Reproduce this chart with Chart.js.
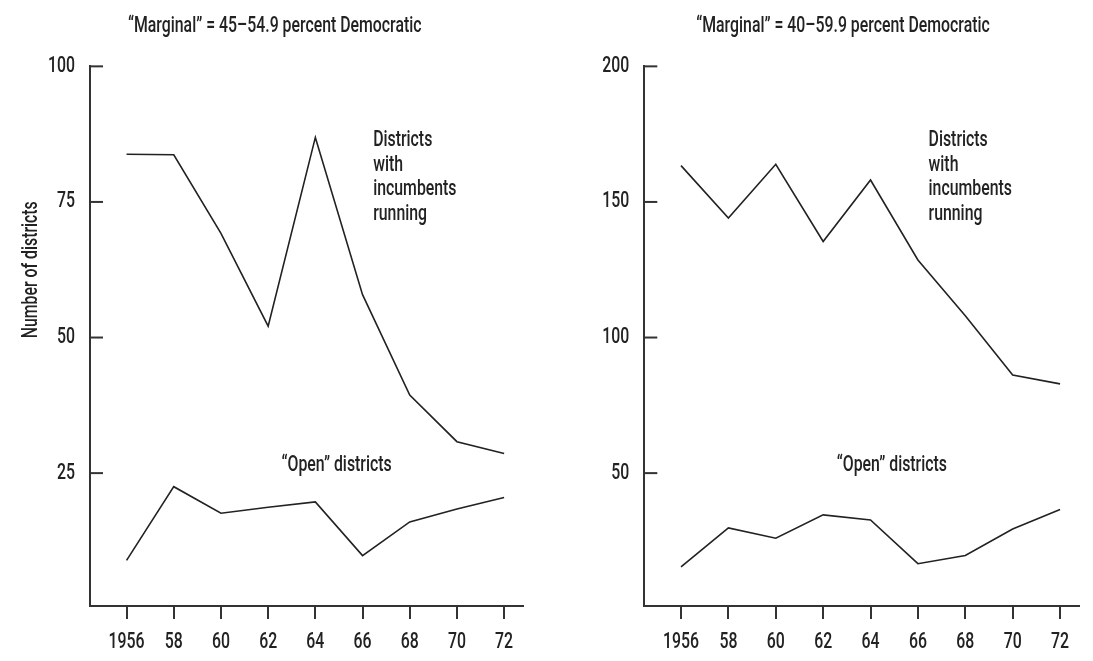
<!DOCTYPE html>
<html>
<head>
<meta charset="utf-8">
<script src="https://cdn.jsdelivr.net/npm/chart.js@4.4.1/dist/chart.umd.min.js"></script>
<style>
  body { margin: 0; background: #fff; width: 1093px; height: 661px; position: relative; overflow: hidden; }
  canvas { position: absolute; top: 0; }
  #leftChart { left: 0; }
  #rightChart { left: 546px; }
</style>
</head>
<body>
<canvas id="leftChart" width="546" height="661"></canvas>
<canvas id="rightChart" width="547" height="661"></canvas>
<script>
// election years (x axis)
const years = [1956, 1958, 1960, 1962, 1964, 1966, 1968, 1970, 1972];

// left panel: marginal = 45-54.9 percent Democratic
const leftIncumbents = [83.8, 83.7, 69.2, 52.1, 86.9, 57.9, 39.4, 30.8, 28.6];
const leftOpen = [8.9, 22.5, 17.6, 18.7, 19.7, 9.8, 16.0, 18.4, 20.5];
const leftYTicks = [25, 50, 75, 100];

// right panel: marginal = 40-59.9 percent Democratic
const rightIncumbents = [163.4, 144.1, 163.9, 135.4, 158.1, 128.6, 108.0, 86.2, 82.9];
const rightOpen = [15.4, 29.8, 26.0, 34.6, 32.7, 16.6, 19.6, 29.4, 36.6];
const rightYTicks = [50, 100, 150, 200];

const titles = ['\u201cMarginal\u201d = 45\u201354.9 percent Democratic', '\u201cMarginal\u201d = 40\u201359.9 percent Democratic'];
const incumbentNote = ['Districts', 'with', 'incumbents', 'running'];
const openNote = '\u201cOpen\u201d districts';
const yLabel = 'Number of districts';

const family = 'Roboto, "Liberation Sans", sans-serif';
const fontSize = 22;
const fontWeight = 500;
const squeeze = 0.72; // no condensed face installed, so narrow the glyphs
const ink = '#222';
const axisInk = '#333';

Chart.defaults.font.family = family;
Chart.defaults.font.size = fontSize;
Chart.defaults.font.weight = fontWeight;
Chart.defaults.color = ink;

// every label on the canvas gets drawn horizontally squeezed about its anchor
function condense(canvas) {
  const ctx = canvas.getContext('2d');
  const fill = ctx.fillText;
  ctx.fillText = function (text, x, y) {
    this.save();
    this.translate(x, y);
    this.scale(squeeze, 1);
    fill.call(this, text, 0, 0);
    this.restore();
  };
  return canvas;
}

// y tick marks point into the plot, so draw them ourselves
const inwardTicks = {
  id: 'inwardTicks',
  afterDraw(chart) {
    const { ctx, chartArea, scales: { y } } = chart;
    ctx.save();
    ctx.strokeStyle = axisInk;
    ctx.lineWidth = 2;
    y.ticks.forEach(t => {
      const py = y.getPixelForValue(t.value);
      ctx.beginPath();
      ctx.moveTo(chartArea.left, py);
      ctx.lineTo(chartArea.left + 13, py);
      ctx.stroke();
    });
    ctx.restore();
  }
};

// panel title, line labels next to the curves, y axis label
const notes = {
  id: 'notes',
  afterDraw(chart, args, opts) {
    const { ctx, scales: { x, y } } = chart;
    ctx.save();
    ctx.fillStyle = ink;
    ctx.font = fontWeight + ' ' + fontSize + 'px ' + family;
    ctx.textBaseline = 'alphabetic';
    if (opts.title) {
      ctx.textAlign = 'center';
      ctx.fillText(opts.title.text, opts.title.px, opts.title.py);
    }
    (opts.items || []).forEach(n => {
      ctx.textAlign = n.align;
      n.lines.forEach((line, i) => {
        ctx.fillText(line, x.getPixelForValue(n.x), y.getPixelForValue(n.y) + i * 24.7);
      });
    });
    if (opts.yLabel) {
      ctx.translate(opts.yLabel.px, y.getPixelForValue(opts.yLabel.y));
      ctx.rotate(-Math.PI / 2);
      ctx.textAlign = 'center';
      ctx.textBaseline = 'middle';
      ctx.fillText(opts.yLabel.text, 0, 0);
    }
    ctx.restore();
  }
};

function makePanel(id, incumbents, open, yTicks, yMin, yMax, padR, yWidth, noteOpts) {
  const toPoints = vals => years.map((yr, i) => ({ x: yr, y: vals[i] }));
  return new Chart(condense(document.getElementById(id)), {
    type: 'line',
    data: {
      datasets: [
        { data: toPoints(incumbents), borderColor: ink, borderWidth: 1.6, pointRadius: 0, tension: 0 },
        { data: toPoints(open), borderColor: ink, borderWidth: 1.6, pointRadius: 0, tension: 0 }
      ]
    },
    options: {
      responsive: false,
      animation: false,
      devicePixelRatio: 1,
      layout: { padding: { left: 0, right: padR, top: 66.35, bottom: 0 } },
      plugins: {
        legend: { display: false },
        tooltip: { enabled: false },
        title: { display: false },
        notes: noteOpts
      },
      scales: {
        x: {
          type: 'linear',
          min: 1954.45,
          max: 1972.8,
          afterBuildTicks: s => { s.ticks = years.map(v => ({ value: v })); },
          afterFit: s => { s.height = 55; },
          ticks: {
            padding: 10.5,
            maxRotation: 0,
            autoSkip: false,
            color: ink,
            callback: v => v === years[0] ? String(v) : String(v).slice(2)
          },
          grid: { drawOnChartArea: false, drawTicks: true, tickLength: 13, color: axisInk, lineWidth: 2 },
          border: { display: true, color: axisInk, width: 2 }
        },
        y: {
          min: yMin,
          max: yMax,
          afterBuildTicks: s => { s.ticks = yTicks.map(v => ({ value: v })); },
          afterFit: s => { s.width = yWidth; },
          ticks: { padding: 15, color: ink },
          grid: { display: false, drawTicks: false },
          border: { display: true, color: axisInk, width: 2 }
        }
      }
    },
    plugins: [inwardTicks, notes]
  });
}

makePanel('leftChart', leftIncumbents, leftOpen, leftYTicks, 0.5, 100, 23, 90, {
  title: { text: titles[0], px: 274.7, py: 32 },
  items: [
    { x: 1966.45, y: 85.3, lines: incumbentNote, align: 'left' },
    { x: 1964.9, y: 25.3, lines: [openNote], align: 'center' }
  ],
  yLabel: { text: yLabel, px: 31, y: 62.5 }
});

makePanel('rightChart', rightIncumbents, rightOpen, rightYTicks, 1, 200, 14, 98.3, {
  title: { text: titles[1], px: 297, py: 32 },
  items: [
    { x: 1966.45, y: 170.6, lines: incumbentNote, align: 'left' },
    { x: 1964.9, y: 50.6, lines: [openNote], align: 'center' }
  ]
});
</script>
</body>
</html>
